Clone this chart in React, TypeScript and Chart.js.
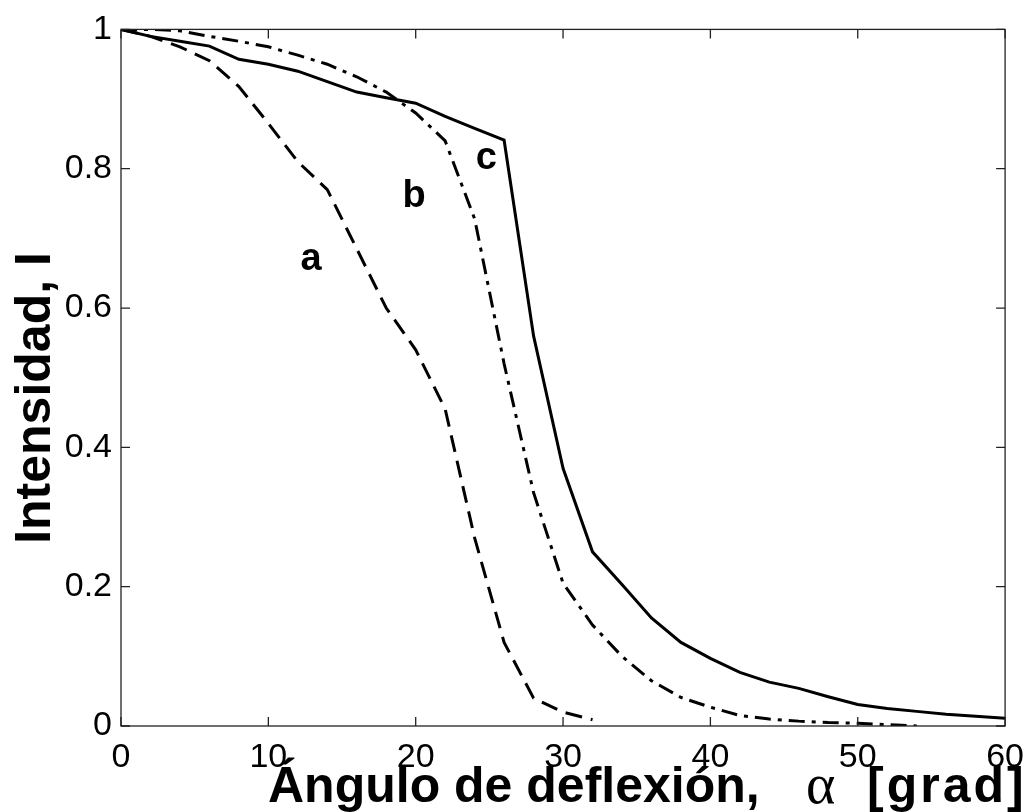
import React, { useEffect, useRef } from "react";
import { Chart, registerables } from "chart.js";

Chart.register(...registerables);

// ---- data ----
const xA = [0, 2, 4, 6, 8, 10, 12, 14, 16, 18, 20, 22, 24, 26, 28, 30, 32];
const yA = [1, 0.99, 0.975, 0.955, 0.918, 0.865, 0.81, 0.77, 0.685, 0.6, 0.54, 0.455, 0.27, 0.12, 0.04, 0.02, 0.009];

const xB = [0, 2, 4, 6, 8, 10, 12, 14, 16, 18, 20, 22, 24, 26, 28, 30, 32, 34, 36, 38, 40, 42, 44, 46, 48, 50, 52, 54];
const yB = [1, 1, 0.998, 0.99, 0.983, 0.975, 0.963, 0.95, 0.932, 0.91, 0.88, 0.84, 0.728, 0.52, 0.335, 0.205, 0.145, 0.1, 0.065, 0.041, 0.027, 0.015, 0.01, 0.007, 0.005, 0.004, 0.002, 0.0];

const xC = [0, 2, 4, 6, 8, 10, 12, 14, 16, 18, 20, 22, 24, 26, 28, 30, 32, 34, 36, 38, 40, 42, 44, 46, 48, 50, 52, 54, 56, 58, 60];
const yC = [1, 0.99, 0.983, 0.976, 0.957, 0.95, 0.94, 0.925, 0.91, 0.902, 0.894, 0.875, 0.858, 0.841, 0.56, 0.37, 0.25, 0.203, 0.155, 0.12, 0.097, 0.077, 0.063, 0.054, 0.042, 0.031, 0.025, 0.021, 0.017, 0.014, 0.011];

const xTicks = [0, 10, 20, 30, 40, 50, 60];
const yTicks = [0, 0.2, 0.4, 0.6, 0.8, 1];

const curveLabels = ["a", "b", "c"];
const curveLabelX = [12.9, 19.9, 24.8];
const curveLabelY = [0.67, 0.76, 0.815];

const xTitleMain = "Ángulo de deflexión,";
const xTitleSymbol = "α";
const xTitleUnit = "[grad]";
const yTitle = "Intensidad, I";

const toPts = (xs: number[], ys: number[]) => xs.map((x, i) => ({ x, y: ys[i] }));

const SANS = "'Liberation Sans', Arial, Helvetica, sans-serif";
const SERIF = "'Liberation Serif', 'Times New Roman', serif";

const decorPlugin = {
  id: "decor",
  afterDraw(chart: any) {
    const { ctx, chartArea: a, scales } = chart;
    const xs = scales.x;
    const ys = scales.y;
    ctx.save();
    // box
    ctx.strokeStyle = "#222";
    ctx.lineWidth = 1.3;
    ctx.strokeRect(a.left, a.top, a.right - a.left, a.bottom - a.top);
    // inward ticks
    const tl = 9;
    ctx.beginPath();
    xTicks.forEach((t) => {
      const px = xs.getPixelForValue(t);
      ctx.moveTo(px, a.bottom);
      ctx.lineTo(px, a.bottom - tl);
      ctx.moveTo(px, a.top);
      ctx.lineTo(px, a.top + tl);
    });
    yTicks.forEach((t) => {
      const py = ys.getPixelForValue(t);
      ctx.moveTo(a.left, py);
      ctx.lineTo(a.left + tl, py);
      ctx.moveTo(a.right, py);
      ctx.lineTo(a.right - tl, py);
    });
    ctx.stroke();

    // curve labels
    ctx.fillStyle = "#000";
    ctx.font = `bold 38px ${SANS}`;
    ctx.textAlign = "center";
    ctx.textBaseline = "middle";
    curveLabels.forEach((lab, i) => {
      ctx.fillText(lab, xs.getPixelForValue(curveLabelX[i]), ys.getPixelForValue(curveLabelY[i]));
    });

    // x title
    ctx.textAlign = "left";
    ctx.textBaseline = "alphabetic";
    ctx.font = `bold 50px ${SANS}`;
    ctx.fillText(xTitleMain, 268, 802);
    ctx.font = `56px ${SERIF}`;
    ctx.fillText(xTitleSymbol, 806, 803);
    ctx.font = `bold 50px ${SANS}`;
    try {
      (ctx as any).letterSpacing = "3px";
    } catch (e) {}
    ctx.fillText(xTitleUnit, 867, 802);
    try {
      (ctx as any).letterSpacing = "0px";
    } catch (e) {}

    // y title
    ctx.translate(50, 398);
    ctx.rotate(-Math.PI / 2);
    ctx.textAlign = "center";
    ctx.font = `bold 50px ${SANS}`;
    ctx.fillText(yTitle, 0, 0);
    ctx.restore();
  },
};

export default function App() {
  const ref = useRef<HTMLCanvasElement | null>(null);
  useEffect(() => {
    if (!ref.current) return;
    const common = {
      borderColor: "#000",
      backgroundColor: "#000",
      borderWidth: 3,
      pointRadius: 0,
      tension: 0,
      fill: false,
    };
    const chart = new Chart(ref.current, {
      type: "line",
      data: {
        datasets: [
          { ...common, label: "a", data: toPts(xA, yA), borderDash: [17, 9] },
          { ...common, label: "b", data: toPts(xB, yB), borderDash: [16, 7, 4, 7] },
          { ...common, label: "c", data: toPts(xC, yC) },
        ],
      },
      options: {
        responsive: false,
        animation: false,
        devicePixelRatio: 1,
        layout: { padding: { left: 0, top: 22, right: 21, bottom: 0 } },
        plugins: { legend: { display: false }, tooltip: { enabled: false }, title: { display: false } },
        scales: {
          x: {
            type: "linear",
            min: 0,
            max: 60,
            grid: { display: false, drawTicks: false },
            border: { display: false },
            afterFit: (s: any) => {
              s.height = 86;
            },
            afterBuildTicks: (s: any) => {
              s.ticks = xTicks.map((v) => ({ value: v }));
            },
            ticks: {
              autoSkip: false,
              maxRotation: 0,
              padding: 11,
              color: "#000",
              font: { family: SANS, size: 34 },
            },
          },
          y: {
            type: "linear",
            min: 0,
            max: 1,
            grid: { display: false, drawTicks: false },
            border: { display: false },
            afterFit: (s: any) => {
              s.width = 121;
            },
            afterBuildTicks: (s: any) => {
              s.ticks = yTicks.map((v) => ({ value: v }));
            },
            ticks: {
              autoSkip: false,
              padding: 9,
              color: "#000",
              font: { family: SANS, size: 34 },
              callback: (v: any) => String(Number(v)),
            },
          },
        },
      },
      plugins: [decorPlugin],
    } as any);
    return () => chart.destroy();
  }, []);
  return (
    <div style={{ position: "absolute", left: 0, top: 0, width: 1035, height: 812, background: "#fff" }}>
      <canvas ref={ref} width={1035} height={812} style={{ display: "block", width: 1035, height: 812 }} />
    </div>
  );
}
